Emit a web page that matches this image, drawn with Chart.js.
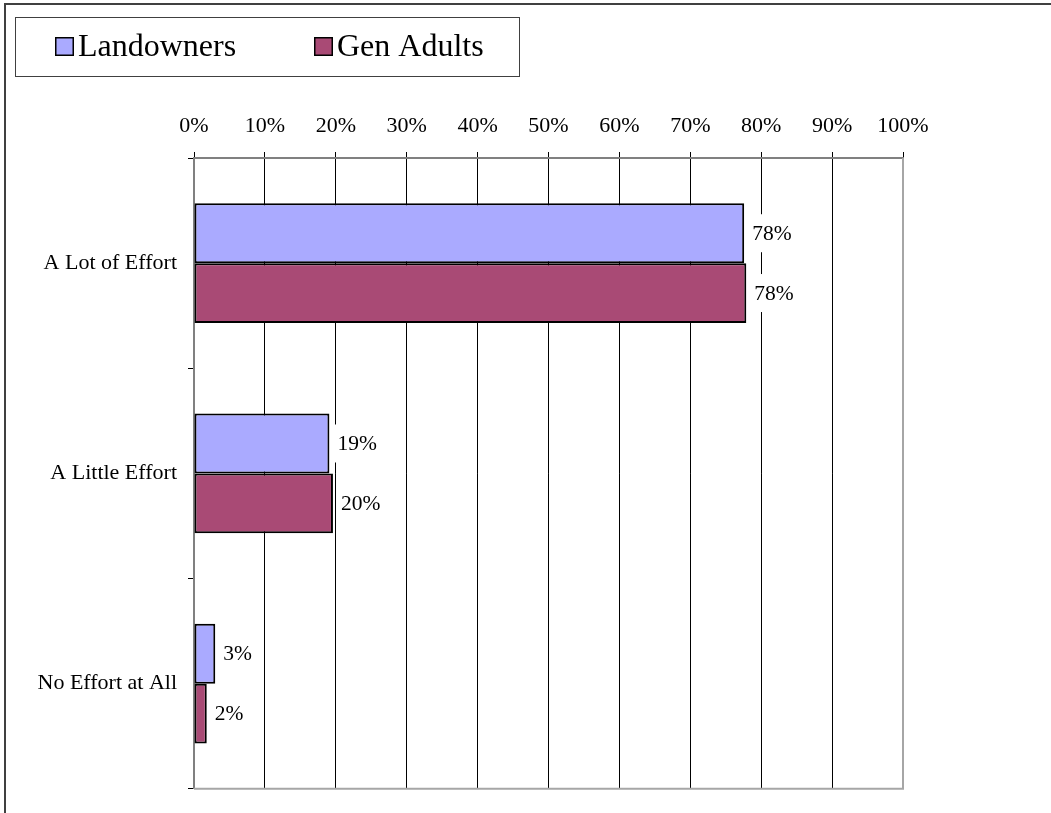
<!DOCTYPE html>
<html>
<head>
<meta charset="utf-8">
<script src="https://cdn.jsdelivr.net/npm/chart.js@4/dist/chart.umd.min.js"></script>
<style>
  html, body { margin: 0; padding: 0; background: #fff; }
  canvas { display: block; }
</style>
</head>
<body>
<canvas id="c" width="1051" height="813"></canvas>
<script>
const categories = ['A Lot of Effort', 'A Little Effort', 'No Effort at All'];
const seriesNames = ['Landowners', 'Gen Adults'];
const landowners = [77.6, 19.1, 3.0];
const genAdults = [77.9, 19.6, 1.8];
const xTicks = [0, 10, 20, 30, 40, 50, 60, 70, 80, 90, 100];

const FONT = "'Liberation Serif', 'Times New Roman', serif";

const framePlugin = {
  id: 'frame',
  beforeDraw(chart) {
    const ctx = chart.ctx;
    ctx.save();
    ctx.fillStyle = '#fff';
    ctx.fillRect(0, 0, chart.width, chart.height);
    ctx.strokeStyle = '#404040';
    ctx.lineWidth = 2;
    ctx.beginPath();
    ctx.moveTo(5, chart.height + 5);
    ctx.lineTo(5, 4);
    ctx.lineTo(chart.width + 5, 4);
    ctx.stroke();
    ctx.restore();
  },
  afterDatasetsDraw(chart) {
    const ctx = chart.ctx;
    const a = chart.chartArea;
    ctx.save();
    ctx.strokeStyle = '#a6a6a6';
    ctx.lineWidth = 2;
    ctx.beginPath();
    ctx.moveTo(a.left, a.bottom);
    ctx.lineTo(a.right, a.bottom);
    ctx.lineTo(a.right, a.top);
    ctx.stroke();
    // data labels
    ctx.font = '21.5px ' + FONT;
    ctx.textBaseline = 'middle';
    ctx.textAlign = 'left';
    chart.data.datasets.forEach((ds, di) => {
      const meta = chart.getDatasetMeta(di);
      meta.data.forEach((bar, i) => {
        const txt = Math.round(ds.data[i]) + '%';
        const x = bar.x + 8;
        const y = bar.y;
        const w = ctx.measureText(txt).width;
        ctx.fillStyle = '#fff';
        ctx.fillRect(x - 3, y - 19, w + 6, 38);
        ctx.fillStyle = '#000';
        ctx.fillText(txt, x, y + 1);
      });
    });
    ctx.restore();
  },
  afterDraw(chart) {
    const ctx = chart.ctx;
    ctx.save();
    // legend box
    ctx.strokeStyle = '#404040';
    ctx.lineWidth = 1;
    ctx.strokeRect(15.5, 17.5, 504, 59);
    ctx.font = '32px ' + FONT;
    ctx.textBaseline = 'alphabetic';
    ctx.textAlign = 'left';
    const starts = [55, 314];
    chart.data.datasets.forEach((ds, di) => {
      const x = starts[di];
      ctx.fillStyle = ds.backgroundColor;
      ctx.fillRect(x, 37, 19, 19);
      ctx.strokeStyle = '#000';
      ctx.lineWidth = 1.5;
      ctx.strokeRect(x + 0.75, 37.75, 17.5, 17.5);
      ctx.fillStyle = '#000';
      ctx.fillText(ds.label, x + 23, 56);
    });
    ctx.restore();
  }
};

new Chart(document.getElementById('c'), {
  type: 'bar',
  data: {
    labels: categories,
    datasets: [
      { label: seriesNames[0], data: landowners, backgroundColor: '#AAAAFF', borderColor: '#000', borderWidth: 2, borderSkipped: false },
      { label: seriesNames[1], data: genAdults, backgroundColor: '#A94A75', borderColor: '#000', borderWidth: 2, borderSkipped: false }
    ]
  },
  options: {
    indexAxis: 'y',
    responsive: false,
    animation: false,
    devicePixelRatio: 1,
    datasets: { bar: { barPercentage: 1, categoryPercentage: 0.569 } },
    layout: { padding: { left: 0, top: 0, right: 148, bottom: 22 } },
    plugins: { legend: { display: false }, tooltip: { enabled: false } },
    scales: {
      x: {
        type: 'linear',
        position: 'top',
        min: 0, max: 100,
        afterBuildTicks(scale) { scale.ticks = xTicks.map(v => ({ value: v })); },
        afterFit(scale) { scale.height = 158; },
        ticks: {
          callback: v => v + '%',
          color: '#000',
          font: { family: FONT, size: 22 },
          padding: 13,
          maxRotation: 0
        },
        grid: {
          color: ctx => (ctx.tick && ctx.tick.value === 100) ? '#a6a6a6' : '#000',
          tickColor: '#000',
          lineWidth: 1,
          tickLength: 6,
          drawOnChartArea: true
        },
        border: { color: '#808080', width: 2 }
      },
      y: {
        type: 'category',
        position: 'left',
        offset: true,
        afterFit(scale) { scale.width = 194; },
        ticks: {
          color: '#000',
          font: { family: FONT, size: 22 },
          padding: 11
        },
        grid: {
          offset: true,
          drawOnChartArea: false,
          drawTicks: true,
          tickLength: 6,
          color: '#000',
          tickColor: '#000'
        },
        border: { color: '#808080', width: 2 }
      }
    }
  },
  plugins: [framePlugin]
});
</script>
</body>
</html>
